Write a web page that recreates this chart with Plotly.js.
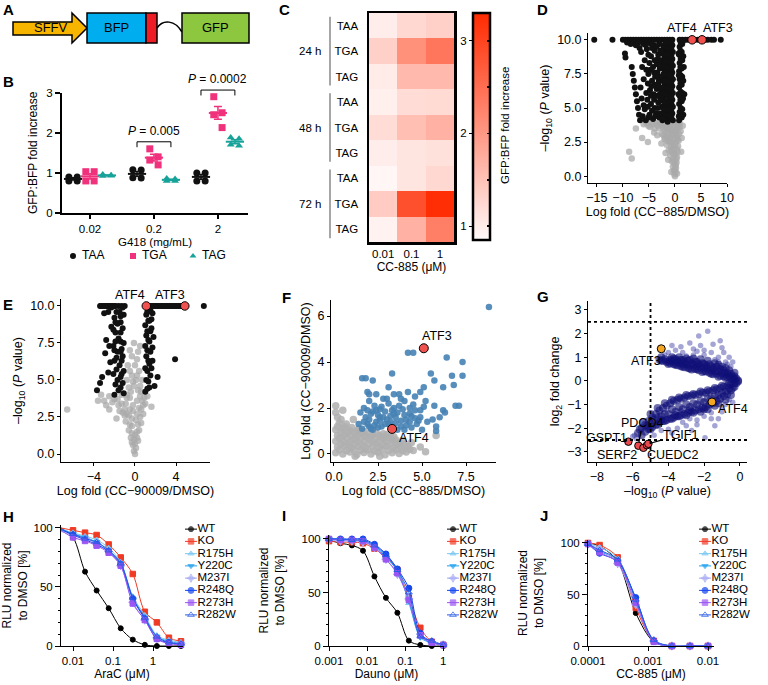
<!DOCTYPE html>
<html><head><meta charset="utf-8">
<script src="https://cdn.plot.ly/plotly-3.0.1.min.js"></script>
<style>html,body{margin:0;padding:0;background:#fff}#chart{width:768px;height:685px}</style>
</head><body><div id="chart"></div>
<script>
// ================= DATA =================
// Panel B: GFP:BFP fold increase vs G418 dose
const bDoses = ['0.02', '0.2', '2'];
const bCodons = ['TAA', 'TGA', 'TAG'];
const bTAA = [[0.9, 0.9, 0.8, 0.8], [1.08, 1.07, 0.88, 0.87], [1.0, 1.0, 0.8, 0.8]];
const bTGA = [[1.03, 1.03, 0.8, 0.8], [1.6, 1.4, 1.32, 1.2], [2.9, 2.5, 2.45, 2.13]];
const bTAG = [[0.96, 0.94, 0.92, 0.93], [0.86, 0.85, 0.8, 0.8], [1.88, 1.85, 1.7, 1.68]];
const bPDose = [1, 2];
const bPText = ['0.005', '0.0002'];

// Panel C: heatmap
const cConc = ['0.01', '0.1', '1'];
const cRows = ['TAA', 'TGA', 'TAG', 'TAA', 'TGA', 'TAG', 'TAA', 'TGA', 'TAG'];
const cTimes = ['24 h', '48 h', '72 h'];
const cZ = [
  [1.0, 1.25, 1.35],
  [1.35, 2.1, 2.4],
  [1.02, 1.6, 1.6],
  [0.98, 1.2, 1.22],
  [1.2, 1.55, 1.7],
  [1.0, 1.1, 1.15],
  [0.9, 1.1, 1.25],
  [1.4, 2.85, 3.25],
  [0.95, 1.7, 2.3]
];

// Panel D: volcano CC-885
const dSig = [[-15.5,10],[-12,10],[-10,10],[-9.5,10],[-9,10],[-8.5,10],[-8,10],[-7.5,10],[-7,10],[-6.5,10],[-6,10],[-5.5,10],[-5,10],[-4.5,10],[-4,10],[-3.5,10],[-3,10],[-2.5,10],[-2,10],[-1.5,10],[-1,10],[-0.5,10],[0.9,10],[1.4,10],[2,10],[2.5,10],[3,10],[3.8,10],[4.4,10],[5.8,10],[6.3,10],[7,10],[7.5,10],[8.8,10],
[-0.4,4.1],[-0.9,4.2],[-1.4,4.0],[-1.9,4.3],[-2.4,4.1],[-0.5,4.6],[-1.0,4.7],[-1.5,4.5],[-2.0,4.8],[-0.4,5.1],[-0.9,5.2],[-1.4,5.0],[-1.9,5.3],[-2.5,5.1],[-0.5,5.6],[-1.0,5.7],[-1.5,5.5],[-2.1,5.8],[-0.4,6.1],[-0.9,6.2],[-1.4,6.0],[-1.9,6.3],[-2.6,6.2],[-0.5,6.6],[-1.0,6.7],[-1.5,6.5],[-2.0,6.8],[-0.4,7.1],[-0.9,7.2],[-1.4,7.0],[-1.9,7.3],[-2.4,7.1],[-0.5,7.6],[-1.0,7.7],[-1.5,7.5],[-2.0,7.8],[-0.4,8.1],[-0.9,8.2],[-1.4,8.0],[-1.9,8.3],[-2.5,8.2],[-0.5,8.6],[-1.0,8.7],[-1.5,8.5],[-2.0,8.8],[-0.4,9.1],[-0.9,9.2],[-1.4,9.0],[-1.9,9.3],[-2.4,9.1],[-0.5,9.6],[-1.0,9.7],[-1.5,9.5],[-2.0,9.6],
[-0.7,4.35],[-1.2,4.4],[-1.7,4.45],[-2.2,4.5],[-0.7,4.85],[-1.2,4.9],[-1.7,4.95],[-2.3,5.0],[-0.7,5.35],[-1.2,5.4],[-1.7,5.45],[-2.2,5.5],[-0.7,5.85],[-1.2,5.9],[-1.7,5.95],[-2.3,6.0],[-0.7,6.35],[-1.2,6.4],[-1.7,6.45],[-2.2,6.5],[-0.7,6.85],[-1.2,6.9],[-1.7,6.95],[-2.3,7.0],[-0.7,7.35],[-1.2,7.4],[-1.7,7.45],[-2.2,7.5],[-0.7,7.85],[-1.2,7.9],[-1.7,7.95],[-2.3,8.0],[-0.7,8.35],[-1.2,8.4],[-1.7,8.45],[-2.2,8.5],[-0.7,8.85],[-1.2,8.9],[-1.7,8.95],[-2.3,9.0],[-0.7,9.35],[-1.2,9.4],[-1.7,9.45],[-2.2,9.5],[-0.7,9.8],[-1.2,9.85],[-1.7,9.8],
[-3.0,4.3],[-3.6,4.6],[-4.2,4.2],[-4.9,4.5],[-5.6,4.1],[-6.2,4.4],[-3.2,5.4],[-3.9,5.0],[-4.6,5.3],[-5.3,5.6],[-6.0,5.2],[-2.9,6.0],[-3.5,6.4],[-4.1,6.0],[-4.8,6.3],[-5.5,6.1],[-3.1,7.0],[-3.8,7.3],[-4.4,7.0],[-5.1,7.5],[-6.0,7.1],[-2.9,7.9],[-3.5,8.2],[-4.2,8.0],[-4.9,8.3],[-5.8,8.5],[-3.2,8.9],[-3.9,9.2],[-4.6,8.8],[-5.4,9.3],[-6.5,9.1],[-3.0,9.7],[-4.0,9.6],[-5.0,9.8],[-6.0,9.7],[-7.0,9.8],[-8.0,9.8],
[-2.8,4.6],[-3.3,5.0],[-3.8,4.4],[-4.4,4.8],[-5.1,4.3],[-5.8,4.9],[-2.8,5.7],[-3.4,5.9],[-4.0,5.6],[-4.6,5.9],[-5.2,5.1],[-2.8,6.5],[-3.2,6.8],[-3.9,6.7],[-4.5,6.6],[-5.2,6.8],[-2.8,7.3],[-3.4,7.6],[-4.0,7.6],[-4.7,7.8],[-5.5,7.8],[-2.8,8.5],[-3.3,8.6],[-3.9,8.5],[-4.4,9.4],[-5.1,8.9],[-2.8,9.2],[-3.5,9.5],[-4.5,9.7],[-5.6,9.6],[-6.3,8.0],[-6.6,6.5],[-6.4,5.7],[-6.8,9.4],[-7.5,9.6],[-8.5,9.7],[-9.2,9.8],
[-8.3,8.0],[-8.1,7.5],[-7.9,7.0],[-7.7,6.5],[-7.5,6.0],[-7.3,5.5],[-7.1,5.0],[-6.9,4.5],[-6.7,4.1],[-9.6,9.0],[-9.5,8.7],
[0.8,4.1],[1.3,4.3],[0.9,4.7],[1.4,4.9],[0.8,5.3],[1.3,5.5],[0.9,5.9],[1.4,6.1],[0.8,6.5],[1.3,6.7],[0.9,7.1],[1.4,7.3],[0.8,7.7],[1.3,7.9],[0.9,8.3],[1.4,8.5],[0.8,8.9],[1.3,9.1],[0.9,9.5],[1.4,9.7],[1.7,8.0],[1.8,6.0],
[1.05,4.4],[1.1,5.0],[1.05,5.6],[1.1,6.2],[1.05,6.8],[1.1,7.4],[1.05,8.0],[1.1,8.6],[1.05,9.2],[1.1,9.8],[0.75,4.4],[0.7,6.0],[0.75,7.4],[0.7,9.0],[1.6,4.5],[1.55,5.7],[1.6,7.0],[1.6,8.8],[1.5,9.9]];
const dNS = [[0,0],[0.1,0.3],[-0.2,0.4],[0.2,0.6],[-0.4,0.7],[-0.1,0.9],[0.3,1.0],[-0.6,1.1],[-0.3,1.3],[0.4,1.4],[-0.9,1.5],[-0.5,1.7],[0.1,1.6],[0.5,1.8],[-1.2,1.9],[-0.8,2.1],[-0.2,2.0],[0.6,2.2],[-1.6,2.3],[-1.1,2.5],[-0.5,2.4],[0.2,2.5],[0.7,2.6],[-2.0,2.7],[-1.5,2.9],[-0.9,2.8],[-0.3,3.0],[0.4,2.9],[0.8,3.1],[-2.5,3.1],[-1.9,3.3],[-1.3,3.2],[-0.6,3.4],[0.1,3.3],[0.6,3.5],[0.9,3.6],[-3.0,3.5],[-2.4,3.7],[-1.7,3.6],[-1.0,3.8],[-0.3,3.7],[0.3,3.9],[0.9,3.9],[-3.6,3.9],[-3.0,3.9],[-4.2,3.8],[-4.8,3.6],[-5.5,3.9],[-2.6,2.4],[-3.4,3.0],[-4.0,3.2],[-7.5,3.5],[-8.8,1.8],[-8.3,1.3],[-6.3,2.8],[-5.2,2.5],[1.3,2.8],[1.5,3.7],[1.2,1.8],[-0.7,0.3],[0.4,0.2],[-1.3,1.2],[-1.8,1.7],
[0.0,0.5],[-0.1,0.15],[0.15,0.8],[-0.25,1.1],[0.25,1.25],[-0.15,1.6],[-0.7,1.9],[0.35,2.0],[-0.4,2.2],[0.0,2.3],[-1.4,2.6],[-0.8,2.6],[-0.1,2.7],[0.5,2.7],[-2.2,3.0],[-1.1,3.0],[-0.5,3.1],[0.2,3.1],[-2.2,3.5],[-1.5,3.4],[-0.9,3.5],[-0.3,3.4],[0.4,3.6],[-2.7,3.8],[-2.0,3.9],[-1.3,3.7],[-0.7,3.9],[0.0,3.9],[0.6,3.8],[-3.3,3.7],[-3.9,3.5],[-4.5,3.9],[-5.1,3.7],[-6.0,3.8],[1.1,3.3],[-1.9,2.8]];
const dHi = [[3.3, 10], [5.2, 10]];
const dHiNames = ['ATF4', 'ATF3'];

// Panel E: volcano CC-90009
const eSig = [[-3.4,10],[-3.1,10],[-2.8,10],[-2.5,10],[-2.2,10],[-1.9,10],[-1.6,10],[-1.3,10],[-1.0,10],[1.4,10],[1.7,10],[2.0,10],[2.3,10],[2.6,10],[2.9,10],[3.2,10],[3.5,10],[3.8,10],[4.1,10],[4.4,10],[6.7,10],
[-3.3,10],[1.2,10],[1.55,10],[1.85,10],[2.15,10],[2.45,10],[2.75,10],[3.05,10],[3.35,10],[3.65,10],[3.95,10],[4.25,10],[4.6,10],[-2.0,10],[-2.35,10],[-2.65,10],[-2.95,10],
[-1.1,4.1],[-1.6,4.3],[-2.0,4.0],[-1.2,4.8],[-1.7,5.0],[-2.1,5.4],[-1.1,5.6],[-1.5,6.0],[-2.0,6.3],[-1.2,6.6],[-1.7,6.9],[-2.1,7.3],[-1.1,7.5],[-1.6,7.8],[-1.9,8.2],[-1.2,8.5],[-1.7,8.8],[-2.0,9.2],[-1.1,9.4],[-1.5,9.6],[-1.3,7.1],[-1.4,5.2],
[-1.4,4.5],[-1.9,4.7],[-1.3,5.4],[-1.8,5.7],[-1.3,6.3],[-1.8,6.5],[-1.4,6.9],[-2.0,7.0],[-1.4,7.6],[-1.9,7.6],[-1.4,8.2],[-2.1,8.4],[-1.4,8.9],[-1.9,8.9],[-1.4,9.3],[-1.8,9.6],[-2.3,9.9],[-1.2,9.9],
[-3.7,4.3],[-3.4,4.8],[-3.2,5.2],[-2.9,6.8],[-2.8,7.7],[-2.5,7.3],[-2.4,6.2],[-2.6,5.5],[-2.3,8.6],[-2.6,9.6],[-3.0,9.5],
[1.0,4.2],[1.4,4.5],[1.1,5.0],[1.5,5.3],[1.0,5.8],[1.4,6.1],[1.1,6.6],[1.5,6.9],[1.0,7.3],[1.4,7.6],[1.1,8.0],[1.5,8.3],[1.0,8.7],[1.4,9.0],[1.1,9.4],[1.5,9.7],[1.7,6.3],[1.8,7.9],[2.2,5.2],[3.9,6.4],[1.6,9.1],[1.9,4.6],
[1.2,4.4],[1.3,4.9],[1.2,5.6],[1.3,6.3],[1.2,7.0],[1.3,7.7],[1.2,8.3],[1.3,9.0],[1.2,9.6],[1.6,5.8],[1.7,7.2],[1.6,8.5],[1.7,9.5]];
const eNS = [[0,0],[0.1,0.4],[-0.2,0.6],[0.3,0.9],[-0.4,1.1],[0.0,1.3],[0.4,1.6],[-0.6,1.6],[-0.3,1.9],[0.6,2.1],[-0.9,2.2],[0.1,2.3],[-0.6,2.6],[0.8,2.7],[-1.2,2.8],[-0.2,2.9],[0.4,3.1],[-1.6,3.3],[-0.9,3.4],[1.0,3.4],[-2.0,3.7],[-0.5,3.8],[0.2,3.6],[1.2,3.9],[-2.5,3.9],[-1.3,4.0],[-3.0,3.6],[-3.3,4.0],[-0.6,4.5],[0.5,4.6],[-0.3,5.3],[0.4,5.6],[-0.7,6.0],[0.2,6.4],[-0.5,7.0],[0.5,7.3],[-0.2,4.9],[0.6,4.2],[-6.6,3.0],[1.6,3.2],[-1.8,2.4],[-2.5,3.0],[-0.1,0.2],[0.2,1.1],[-0.3,0.8],[-1.0,3.0],[0.7,3.6],
[0.0,0.7],[-0.1,1.0],[0.2,1.5],[-0.3,1.4],[-0.5,2.0],[0.3,2.0],[-0.3,2.4],[0.5,2.5],[-0.8,2.7],[0.2,2.7],[-1.0,2.6],[-0.5,3.0],[0.6,3.0],[-1.3,3.4],[-0.2,3.3],[0.8,3.3],[-1.7,3.7],[-0.8,3.8],[0.5,3.9],[-2.2,3.5],[-0.4,4.2],[0.3,4.3],[-0.1,4.6],[0.1,5.0],[-0.5,5.6],[0.0,6.0],[-0.3,6.6],[0.3,6.9],[-0.1,7.5],[0.2,5.3],[-0.8,5.0],[0.7,5.0],[-0.8,4.0],[0.9,3.8],[-1.5,2.9],[-2.8,3.3],[-3.6,3.6]];
const eHi = [[1.1, 10], [4.85, 10]];
const eHiNames = ['ATF4', 'ATF3'];

// Panel F: CC-885 vs CC-90009 log fold
const fNS = [[0.1,0.05],[0.5,0.0],[0.9,0.08],[1.3,-0.02],[1.7,0.06],[2.1,0.0],[2.5,0.07],[2.9,-0.03],[3.3,0.05],[3.7,0.02],[4.1,0.08],[4.5,0.15],
[0.2,0.3],[0.6,0.33],[1.0,0.28],[1.4,0.32],[1.8,0.27],[2.2,0.31],[2.6,0.29],[3.0,0.34],[3.4,0.28],[3.8,0.3],[4.2,0.35],
[0.1,0.55],[0.5,0.58],[0.9,0.52],[1.3,0.57],[1.7,0.54],[2.1,0.59],[2.5,0.53],[2.9,0.56],[3.3,0.6],[3.7,0.5],
[0.2,0.8],[0.6,0.83],[1.0,0.78],[1.4,0.82],[1.8,0.79],[2.2,0.84],[2.6,0.8],[3.0,0.85],[3.4,0.75],
[0.1,1.05],[0.5,1.08],[0.9,1.02],[1.3,1.0],[1.7,0.98],
[0.3,1.35],[0.7,1.3],[0.2,1.6],[0.5,1.9],[0.1,2.1],[1.1,1.5],[4.9,0.3],[5.8,0.8],[5.2,0.1],[1.2,-0.1],[2.6,-0.1],[0.3,0.18],[2.0,0.45],[3.6,0.42],[1.5,0.68],[2.8,0.68],
[0.7,0.15],[1.1,0.2],[1.5,0.16],[1.9,0.18],[2.3,0.14],[2.7,0.2],[3.1,0.16],[3.5,0.18],[3.9,0.15],[4.3,0.2],
[0.4,0.43],[0.8,0.42],[1.2,0.45],[1.6,0.4],[2.4,0.44],[2.8,0.41],[3.2,0.45],[4.0,0.4],[4.4,0.5],
[0.3,0.68],[0.7,0.7],[1.1,0.66],[1.9,0.7],[2.3,0.67],[2.7,0.72],[3.1,0.69],[3.5,0.62],[3.9,0.6],
[0.4,0.93],[0.8,0.95],[1.2,0.9],[1.6,0.92],[2.0,0.88],[2.4,0.9],[2.8,0.88],[3.2,0.8],
[0.2,1.2],[0.6,1.18],[1.0,1.15],[1.4,1.1],[0.4,1.5],[0.1,1.8]];
const fSig = [[1.6,1.1],[1.9,1.3],[2.2,1.05],[2.4,1.4],[2.7,1.2],[3.0,1.5],[3.3,1.1],[3.5,1.35],[3.8,1.2],[4.1,1.5],[4.4,1.15],[4.7,1.3],[5.0,1.05],[5.3,1.4],
[1.8,1.6],[2.1,1.75],[2.5,1.7],[2.9,1.85],[3.2,1.65],[3.6,1.8],[3.9,1.95],[4.3,1.75],[4.6,1.9],[4.9,1.6],
[2.3,2.1],[2.7,2.05],[3.1,2.2],[3.4,2.0],[4.0,2.3],[4.5,2.15],[5.1,2.05],[1.7,2.0],
[1.5,1.8],[1.6,3.3],[1.9,2.7],[2.0,2.6],[3.1,2.9],[3.4,2.6],[3.8,2.4],[4.2,2.7],[4.9,2.7],[5.1,2.9],[5.2,2.3],[5.7,2.1],[6.2,1.9],[6.3,1.8],[5.6,1.5],[5.8,1.2],[5.8,1.0],[4.2,4.4],[4.5,4.4],[6.4,4.2],[7.3,4.0],[7.3,3.4],[6.7,3.4],[6.8,3.0],[6.2,2.9],[5.5,3.5],[5.7,3.2],[4.6,2.5],[3.7,2.6],[8.8,6.4],[6.9,2.1],[7.1,2.1],[2.8,2.4],[1.4,1.3],[2.6,1.45],[4.6,1.55],[3.3,1.9],[6.0,1.6],[2.0,1.2],[3.1,1.3],[4.0,1.05],[2.4,1.9],
[1.7,1.4],[2.0,1.5],[2.3,1.25],[2.6,1.6],[2.9,1.3],[3.2,1.4],[3.5,1.6],[3.8,1.45],[4.1,1.25],[4.4,1.65],[4.8,1.45],[2.2,1.85],[2.8,1.6],[3.4,1.75],[4.0,1.7],[1.9,1.9],[2.6,1.95],[3.7,2.1],[4.3,2.0],[2.1,1.1],[2.5,1.15],[3.6,1.05],[4.3,1.4],[4.9,1.9],[2.0,2.3],[3.0,2.4],[2.4,2.6],[3.3,3.5],[2.2,3.2],[1.8,3.3]];
const fHi = [[5.1, 4.6], [3.3, 1.09]];
const fHiNames = ['ATF3', 'ATF4'];

// Panel G: log2 fold change vs -log10 P  (dense core and sparse outliers)
const gCore = [[-0.1,0.02],[-0.3,0.08],[-0.3,0.2],[-0.5,0.1],[-0.5,0.3],[-0.7,0.15],[-0.7,0.35],[-0.9,0.2],[-0.9,0.45],[-1.1,0.22],[-1.1,0.5],[-1.3,0.3],[-1.3,0.6],[-1.5,0.28],[-1.5,0.55],[-1.7,0.35],[-1.7,0.7],[-1.9,0.4],[-1.9,0.65],[-2.1,0.38],[-2.1,0.75],[-2.3,0.45],[-2.3,0.7],[-2.5,0.5],[-2.5,0.82],[-2.7,0.48],[-2.7,0.75],[-2.9,0.55],[-2.9,0.85],[-3.1,0.58],[-3.1,0.8],[-3.3,0.62],[-3.3,0.9],[-3.5,0.66],[-3.5,0.85],[-3.7,0.7],[-3.7,0.95],[-3.9,0.75],[-3.9,0.9],[-4.1,0.8],[-4.3,0.85],[-4.5,0.9],[-4.4,1.0],
[-0.4,0.18],[-0.8,0.3],[-1.2,0.4],[-1.6,0.45],[-2.0,0.55],[-2.4,0.62],[-2.8,0.65],[-3.2,0.72],[-3.6,0.78],[-4.0,0.82],
[-0.2,0.1],[-0.4,0.05],[-0.6,0.22],[-0.8,0.12],[-1.0,0.33],[-1.2,0.18],[-1.4,0.42],[-1.6,0.3],[-1.8,0.55],[-2.0,0.42],[-2.2,0.6],[-2.4,0.5],[-2.6,0.68],[-2.8,0.52],[-3.0,0.72],[-3.2,0.6],[-3.4,0.78],[-3.6,0.68],[-3.8,0.85],[-4.0,0.72],[-4.2,0.92],[-4.4,0.85],[-0.6,0.45],[-1.0,0.6],[-1.4,0.75],[-1.8,0.85],[-2.2,0.92],[-2.6,0.95],[-3.0,0.95],[-3.4,1.0],[-3.8,1.0],[-0.3,0.35],[-0.8,0.55],[-1.2,0.68],[-1.6,0.62],[-2.0,0.72],[-2.4,0.8],[-2.8,0.88],[-3.2,0.88],[-3.6,0.92],
[-0.1,-0.03],[-0.3,-0.1],[-0.3,-0.25],[-0.5,-0.15],[-0.5,-0.4],[-0.7,-0.2],[-0.7,-0.55],[-0.9,-0.25],[-0.9,-0.65],[-1.1,-0.3],[-1.1,-0.75],[-1.3,-0.35],[-1.3,-0.85],[-1.5,-0.4],[-1.5,-0.95],[-1.7,-0.45],[-1.7,-1.0],[-1.9,-0.5],[-1.9,-1.1],[-2.1,-0.5],[-2.1,-1.15],[-2.3,-0.55],[-2.3,-1.2],[-2.5,-0.6],[-2.5,-1.25],[-2.7,-0.62],[-2.7,-1.3],[-2.9,-0.65],[-2.9,-1.35],[-3.1,-0.7],[-3.1,-1.4],[-3.3,-0.75],[-3.3,-1.45],[-3.5,-0.8],[-3.5,-1.5],[-3.7,-0.85],[-3.7,-1.55],[-3.9,-0.95],[-3.9,-1.6],[-4.1,-1.05],[-4.1,-1.65],[-4.3,-1.15],[-4.3,-1.7],[-4.5,-1.25],[-4.5,-1.75],[-4.7,-1.4],[-4.7,-1.85],[-4.9,-1.55],[-4.9,-1.95],[-5.1,-1.7],[-5.1,-2.05],[-5.3,-1.85],[-5.3,-2.15],[-5.5,-2.0],[-5.5,-2.3],[-5.7,-2.2],
[-0.6,-0.3],[-1.0,-0.5],[-1.4,-0.65],[-1.8,-0.75],[-2.2,-0.85],[-2.6,-0.95],[-3.0,-1.0],[-3.4,-1.1],[-3.8,-1.2],[-4.2,-1.4],[-4.6,-1.55],[-5.0,-1.8],
[-0.2,-0.1],[-0.4,-0.3],[-0.6,-0.1],[-0.8,-0.45],[-1.0,-0.2],[-1.2,-0.6],[-1.4,-0.3],[-1.6,-0.75],[-1.8,-0.4],[-2.0,-0.9],[-2.2,-0.45],[-2.4,-1.0],[-2.6,-0.55],[-2.8,-1.1],[-3.0,-0.6],[-3.2,-1.2],[-3.4,-0.7],[-3.6,-1.3],[-3.8,-0.8],[-4.0,-1.4],[-4.2,-0.95],[-4.4,-1.5],[-4.6,-1.15],[-4.8,-1.65],[-5.0,-1.4],[-5.2,-1.9],[-5.4,-1.75],[-5.6,-2.05],[-0.8,-0.8],[-1.4,-1.05],[-1.8,-1.2],[-2.2,-1.3],[-2.6,-1.35],[-3.0,-1.45],[-3.4,-1.5],[-3.8,-1.6],[-4.2,-1.7],[-4.6,-1.85],[-5.0,-2.05],[-0.5,-0.6],[-1.2,-0.95],[-2.0,-1.2],[-2.8,-1.25],[-3.6,-1.45],[-4.4,-1.65]];
const gSparse = [[-0.8,0.8],[-1.2,1.0],[-1.6,1.2],[-2.0,1.1],[-2.4,1.25],[-1.0,1.4],[-2.8,1.6],[-1.8,2.1],[-3.2,1.2],[-3.6,1.3],[-0.5,0.6],[-2.2,1.5],[-1.4,0.9],[-3.0,1.05],[-0.9,1.2],[-4.0,1.2],[-2.6,1.1],[-4.2,1.1],[-1.2,0.8],[-2.0,1.3],[-2.6,1.35],[-3.3,1.45],[-1.5,1.55],[-0.7,0.7],[-0.6,1.0],[-2.3,1.9],[-1.1,1.7],[-3.8,1.5],[-0.4,0.8],
[-1.0,-1.1],[-1.6,-1.35],[-2.0,-1.5],[-2.4,-1.65],[-3.2,-1.75],[-2.8,-1.6],[-1.95,-2.4],[-3.5,-2.0],[-1.2,-1.6],[-4.0,-2.05],[-0.6,-0.8],[-6.0,-2.35],[-5.8,-2.45],[-4.4,-2.1],[-1.0,-1.3],[-2.4,-1.85],[-3.0,-1.9],[-3.8,-2.2],[-4.8,-2.3],[-1.6,-1.6],[-5.9,-2.3],[-0.8,-1.0],[-0.4,-0.9],[-2.7,-2.1],[-3.3,-1.25],[-1.4,-1.9]];
const gOrange = [[-4.4, 1.36], [-1.56, -0.89]];
const gOrangeNames = ['ATF3', 'ATF4'];
const gRed = [[-6.24, -2.57], [-5.68, -2.74], [-5.4, -2.83], [-5.2, -2.72], [-5.12, -2.66]];
const gRedNames = ['GSPT1', 'PDCD4', 'SERF2', 'CUEDC2', 'TGIF1'];

// Panels H-J: dose response
const doseLines = ['WT', 'KO', 'R175H', 'Y220C', 'M237I', 'R248Q', 'R273H', 'R282W'];
const hConc = [0.005, 0.01, 0.02, 0.039, 0.078, 0.156, 0.3125, 0.625, 1.25, 2.5, 5];
const hResp = [
  [100, 92, 63, 47, 32, 15, 5.4, 1, 0, 0, 0],
  [100, 98, 96, 94, 86, 75, 61, 29, 20, 7, 4],
  [99, 96, 93, 90, 83, 71, 42, 26, 9, 5, 3],
  [98, 95, 92, 88, 81, 70, 40, 24, 8, 4, 2],
  [97, 94, 91, 87, 80, 68, 37, 22, 7, 3, 2],
  [99, 94, 90, 86, 80, 69, 40, 23, 6, 3, 1],
  [98, 92, 89, 85, 79, 68, 36, 22, 6, 2, 1],
  [99, 95, 91, 88, 81, 70, 41, 24, 8, 3, 2]
];
const iConc = [0.001, 0.002, 0.004, 0.0078, 0.0156, 0.03125, 0.0625, 0.125, 0.25, 0.5, 1];
const iResp = [
  [99, 96, 94, 89, 65, 45, 31, 5, 1, 0, 0],
  [98, 97, 97, 96, 91, 83, 71, 45, 17, 4, 1],
  [100, 99, 99, 99, 94, 84, 72, 40, 10, 3, 1],
  [100, 100, 99, 98, 93, 83, 70, 42, 8, 3, 1],
  [99, 98, 98, 97, 92, 81, 67, 44, 11, 3, 1],
  [100, 100, 100, 100, 95, 86, 72, 54, 12, 4, 1],
  [100, 99, 99, 98, 92, 81, 68, 43, 10, 3, 1],
  [100, 100, 99, 99, 94, 85, 71, 50, 9, 5, 1]
];
const jConc = [0.0001, 0.000156, 0.0003125, 0.000625, 0.00125, 0.0025, 0.005, 0.01];
const jResp = [
  [100, 97, 82, 32, 4, 0, 0, 0],
  [100, 98, 86, 37, 5, 0, 0, 0],
  [99, 96, 85, 45, 5, 0, 0, 0],
  [99, 92, 83, 46, 4, 0, 0, 0],
  [99, 94, 80, 40, 5, 0, 0, 0],
  [99, 90, 82, 47, 5, 0, 0, 0],
  [99, 91, 81, 42, 4, 0, 0, 0],
  [99, 93, 84, 45, 6, 0, 0, 0]
];

// ================= STYLE / LAYOUT =================
const W = 768, H = 685;
const fx = p => p / W, fy = p => 1 - p / H;
const FONT = 'Liberation Sans, Arial, Helvetica, sans-serif';
const traces = [], annotations = [], shapes = [];
const layout = {
  width: W, height: H, margin: {l: 0, r: 0, t: 0, b: 0},
  paper_bgcolor: '#fff', plot_bgcolor: 'rgba(0,0,0,0)',
  font: {family: FONT, size: 11.5, color: '#000'},
  showlegend: false, hovermode: false
};
function ax(dom, range, extra) {
  return Object.assign({domain: dom, range: range, autorange: false, showgrid: false, zeroline: false,
    showline: true, linecolor: '#000', linewidth: 1, ticks: 'outside', ticklen: 4, tickcolor: '#000',
    fixedrange: true, tickfont: {size: 11.5}}, extra);
}
const titleFont = {size: 12};

// ---------- Panel letters ----------
[['A', 8, 10], ['B', 8, 81], ['C', 284, 9], ['D', 542, 10], ['E', 8, 304], ['F', 286, 297], ['G', 543, 296], ['H', 8, 516], ['I', 284, 515], ['J', 544, 515]]
  .forEach(([t, x, y]) => annotations.push({text: '<b>' + t + '</b>', xref: 'paper', yref: 'paper', x: fx(x), y: fy(y),
    xanchor: 'center', yanchor: 'middle', showarrow: false, font: {size: 15, family: FONT}}));

// ---------- Panel A (construct diagram) ----------
function pathPx(pts, close) {
  return pts.map((p, i) => (i ? 'L' : 'M') + fx(p[0]) + ',' + fy(p[1])).join(' ') + (close ? ' Z' : '');
}
shapes.push({type: 'path', xref: 'paper', yref: 'paper', path: pathPx([[13,22],[72,22],[72,13],[87,28],[72,43],[72,35],[13,35]], true),
  fillcolor: '#f7b500', line: {color: '#000', width: 1.5}});
shapes.push({type: 'rect', xref: 'paper', yref: 'paper', x0: fx(87), x1: fx(146), y0: fy(43), y1: fy(13), fillcolor: '#00aeef', line: {color: '#000', width: 1.5}});
shapes.push({type: 'rect', xref: 'paper', yref: 'paper', x0: fx(146), x1: fx(157), y0: fy(43), y1: fy(13), fillcolor: '#ee1c24', line: {color: '#000', width: 1.5}});
shapes.push({type: 'path', xref: 'paper', yref: 'paper',
  path: 'M' + fx(157) + ',' + fy(28) + ' C' + fx(163) + ',' + fy(19) + ' ' + fx(175) + ',' + fy(20) + ' ' + fx(182) + ',' + fy(32),
  line: {color: '#000', width: 1.5}});
shapes.push({type: 'rect', xref: 'paper', yref: 'paper', x0: fx(182), x1: fx(249), y0: fy(43), y1: fy(13), fillcolor: '#8dc63f', line: {color: '#000', width: 1.5}});
[['SFFV', 51, 28], ['BFP', 116, 28], ['GFP', 215, 28]].forEach(([t, x, y]) =>
  annotations.push({text: t, xref: 'paper', yref: 'paper', x: fx(x), y: fy(y), xanchor: 'center', yanchor: 'middle',
    showarrow: false, font: {size: 13}}));

// ---------- Panel B ----------
layout.xaxis = ax([fx(62), fx(248)], [-0.4375, 2.47], {anchor: 'y', tickvals: [0, 1, 2], ticktext: bDoses,
  linewidth: 2, tickwidth: 2, ticklen: 4});
layout.yaxis = ax([fy(213), fy(92.7)], [0, 3], {anchor: 'x', tickvals: [0, 1, 2, 3],
  linewidth: 2, tickwidth: 2, ticklen: 5, title: {text: 'GFP:BFP fold increase', font: titleFont, standoff: 6}});
annotations.push({text: 'G418 (mg/mL)', xref: 'paper', yref: 'paper', x: fx(155), y: fy(242), xanchor: 'center', yanchor: 'middle',
  showarrow: false, font: {size: 11.5}});
const bData = [bTAA, bTGA, bTAG];
const bColors = ['#111111', '#f0317c', '#17a39a'];
const bSymbols = ['circle', 'square', 'triangle-up'];
const bOff = [-0.265, 0, 0.265];
const bJit = [-0.065, 0.065, -0.065, 0.065];
bData.forEach((grp, ci) => {
  const xs = [], ys = [], mx = [], my = [], se = [];
  grp.forEach((vals, gi) => {
    vals.forEach((v, ri) => { xs.push(gi + bOff[ci] + bJit[ri]); ys.push(v); });
    const m = vals.reduce((a, b) => a + b, 0) / vals.length;
    const sd = Math.sqrt(vals.reduce((a, b) => a + (b - m) * (b - m), 0) / (vals.length - 1));
    mx.push(gi + bOff[ci]); my.push(m); se.push(sd / Math.sqrt(vals.length));
  });
  traces.push({type: 'scatter', mode: 'markers', x: xs, y: ys, xaxis: 'x', yaxis: 'y', name: bCodons[ci],
    marker: {color: bColors[ci], symbol: bSymbols[ci], size: 7}, cliponaxis: false});
  traces.push({type: 'scatter', mode: 'markers', x: mx, y: my, xaxis: 'x', yaxis: 'y',
    marker: {symbol: 'line-ew-open', size: 13, color: bColors[ci], line: {color: bColors[ci], width: 2}},
    error_y: {type: 'data', array: se, color: bColors[ci], thickness: 1.5, width: 4}, cliponaxis: false});
});
const bBracketY = [0.592, 1.022];
bPDose.forEach((gi, k) => {
  const x0 = gi + bOff[0], x1 = gi + bOff[2], yb = bBracketY[k], yt = yb - 0.045;
  [[x0, yb, x1, yb], [x0, yb, x0, yt], [x1, yb, x1, yt]].forEach(s =>
    shapes.push({type: 'line', xref: 'x', yref: 'y domain', x0: s[0], y0: s[1], x1: s[2], y1: s[3], line: {color: '#000', width: 1}}));
  annotations.push({text: '<i>P</i> = ' + bPText[k], xref: 'x', yref: 'y domain', x: gi, y: yb + 0.015,
    yanchor: 'bottom', showarrow: false, font: {size: 12}});
});
// B legend (horizontal, on hidden axes, px units)
layout.xaxis14 = {domain: [fx(60), fx(250)], range: [60, 250], visible: false, anchor: 'y14', fixedrange: true};
layout.yaxis14 = {domain: [fy(264), fy(248)], range: [-1, 1], visible: false, anchor: 'x14', fixedrange: true};
bCodons.forEach((c, k) => {
  traces.push({type: 'scatter', mode: 'markers', x: [73 + 60 * k], y: [0], xaxis: 'x14', yaxis: 'y14',
    marker: {color: bColors[k], symbol: bSymbols[k], size: 6}, cliponaxis: false});
});
traces.push({type: 'scatter', mode: 'text', x: bCodons.map((_, k) => 82 + 60 * k), y: bCodons.map(() => 0), text: bCodons,
  textposition: 'middle right', textfont: {size: 12, color: '#000'}, xaxis: 'x14', yaxis: 'y14', cliponaxis: false});

// ---------- Panel C ----------
layout.xaxis2 = ax([fx(369), fx(454)], [-0.5, 2.5], {anchor: 'y2', tickvals: [0, 1, 2], ticktext: cConc, ticks: '',
  mirror: true, linewidth: 2.5, title: {text: 'CC-885 (μM)', font: titleFont, standoff: 4}});
layout.yaxis2 = ax([fy(242), fy(13)], [8.5, -0.5], {anchor: 'x2', tickvals: cRows.map((_, i) => i), ticktext: cRows,
  ticks: '', mirror: true, linewidth: 2.5, ticklabelstandoff: 6});
traces.push({type: 'heatmap', z: cZ, x: [0, 1, 2], y: cRows.map((_, i) => i), xaxis: 'x2', yaxis: 'y2',
  zmin: 0.85, zmax: 3.3, colorscale: [[0, '#fffafa'], [1, '#ff2a00']], showscale: true,
  colorbar: {x: fx(473), xanchor: 'left', y: fy(13), yanchor: 'top', len: 227 / H, lenmode: 'fraction', thickness: 17,
    xpad: 0, ypad: 0, outlinewidth: 2.5, outlinecolor: '#000', ticks: 'inside', tickvals: [1, 1.5, 2, 2.5, 3], ticklen: 4,
    tickwidth: 1.5, tickcolor: '#000', showticklabels: false}});
annotations.push({text: 'GFP:BFP fold increase', xref: 'paper', yref: 'paper', x: fx(505), y: fy(126), textangle: -90,
  xanchor: 'center', yanchor: 'middle', showarrow: false, font: {size: 11.5}});
layout.xaxis3 = {domain: [fx(473), fx(490)], range: [0, 1], visible: false, anchor: 'y3', fixedrange: true};
layout.yaxis3 = ax([fy(240), fy(13)], [0.85, 3.3], {anchor: 'x3', side: 'left', tickvals: [1, 2, 3], ticks: 'outside',
  ticklen: 3, showline: false});
traces.push({type: 'scatter', x: [], y: [], xaxis: 'x3', yaxis: 'y3'});
cTimes.forEach((t, k) => {
  annotations.push({text: t, xref: 'paper', yref: 'y2', x: fx(310), y: 3 * k + 1, showarrow: false, font: {size: 11.5}});
  shapes.push({type: 'line', xref: 'paper', yref: 'y2', x0: fx(330), x1: fx(330), y0: 3 * k - 0.35, y1: 3 * k + 2.35,
    line: {color: '#888', width: 1.5}});
});

// ---------- Volcano helpers ----------
function addPts(arr, xa, ya, marker) {
  traces.push({type: 'scatter', mode: 'markers', x: arr.map(p => p[0]), y: arr.map(p => p[1]), xaxis: xa, yaxis: ya,
    marker: marker, cliponaxis: false});
}
function addLabels(arr, names, xa, ya, shifts) {
  arr.forEach((p, i) => annotations.push({text: names[i], xref: xa, yref: ya, x: p[0], y: p[1], showarrow: false,
    xshift: shifts[i][0], yshift: shifts[i][1], font: {size: 12.5}}));
}
const grayM = {color: 'rgba(170,170,170,0.75)', size: 6.5};
const blackM = {color: '#111', size: 6};
const redM = {color: '#f0524f', size: 8.5, line: {color: '#000', width: 1}};
const volTick = {size: 12.5};

// ---------- Panel D ----------
layout.xaxis4 = ax([fx(588), fx(727)], [-16.7, 10], {anchor: 'y4', tickvals: [-15, -10, -5, 0, 5, 10], tickfont: volTick, ticklen: 3,
  title: {text: 'Log fold (CC−885/DMSO)', font: {size: 12.5}, standoff: 0}});
layout.yaxis4 = ax([fy(183), fy(33)], [-0.5, 10.5], {anchor: 'x4', tickvals: [0, 2.5, 5, 7.5, 10], tickformat: '.1f', tickfont: volTick, ticklen: 3,
  title: {text: '–log<sub>10</sub> (<i>P</i> value)', font: {size: 12.5}, standoff: 4}});
addPts(dNS, 'x4', 'y4', grayM);
addPts(dSig, 'x4', 'y4', blackM);
addPts(dHi, 'x4', 'y4', redM);
addLabels(dHi, dHiNames, 'x4', 'y4', [[-10, 12], [16, 12]]);

// ---------- Panel E ----------
layout.xaxis5 = ax([fx(61), fx(210)], [-7.2, 7.3], {anchor: 'y5', tickvals: [-4, 0, 4], tickfont: volTick, ticklen: 3,
  title: {text: 'Log fold (CC−90009/DMSO)', font: {size: 12.5}, standoff: 0}});
layout.yaxis5 = ax([fy(462), fy(299)], [-0.54, 10.47], {anchor: 'x5', tickvals: [0, 2.5, 5, 7.5, 10], tickformat: '.1f', tickfont: volTick, ticklen: 3,
  title: {text: '–log<sub>10</sub> (<i>P</i> value)', font: {size: 12.5}, standoff: 4}});
addPts(eNS, 'x5', 'y5', grayM);
addPts(eSig, 'x5', 'y5', blackM);
addPts(eHi, 'x5', 'y5', redM);
addLabels(eHi, eHiNames, 'x5', 'y5', [[-16, 11], [-15, 11]]);

// ---------- Panel F ----------
layout.xaxis6 = ax([fx(331), fx(496)], [-0.17, 9.2], {anchor: 'y6', tickvals: [0, 2.5, 5, 7.5], tickformat: '.1f', tickfont: volTick, ticklen: 3,
  title: {text: 'Log fold (CC−885/DMSO)', font: {size: 12.5}, standoff: 0}});
layout.yaxis6 = ax([fy(462), fy(300)], [-0.35, 6.7], {anchor: 'x6', tickvals: [0, 2, 4, 6], tickfont: volTick, ticklen: 3,
  title: {text: 'Log fold (CC−90009/DMSO)', font: {size: 12.5}, standoff: 4}});
addPts(fNS, 'x6', 'y6', {color: 'rgba(175,175,175,0.85)', size: 7.5});
addPts(fSig, 'x6', 'y6', {color: 'rgba(70,130,180,0.9)', size: 6.5});
addPts(fHi, 'x6', 'y6', {color: '#f0524f', size: 9, line: {color: '#000', width: 1}});
addLabels(fHi, fHiNames, 'x6', 'y6', [[13, 12], [22, -9]]);

// ---------- Panel G ----------
layout.xaxis7 = ax([fx(588), fx(747)], [-8.5, 0.4], {anchor: 'y7', tickvals: [-8, -6, -4, -2, 0], tickfont: volTick, ticklen: 3,
  title: {text: '–log<sub>10</sub> (<i>P</i> value)', font: {size: 12.5}, standoff: 0}});
layout.yaxis7 = ax([fy(462), fy(301)], [-3.43, 3.38], {anchor: 'x7', tickvals: [-3, -2, -1, 0, 1, 2, 3], tickfont: volTick, ticklen: 3,
  title: {text: 'log<sub>2</sub> fold change', font: {size: 12.5}, standoff: 4}});
[2.5, -2.5].forEach(v => shapes.push({type: 'line', xref: 'x7 domain', yref: 'y7', x0: 0, x1: 1, y0: v, y1: v,
  line: {color: '#000', width: 1.8, dash: 'dot'}}));
shapes.push({type: 'line', xref: 'x7', yref: 'y7 domain', x0: -5, x1: -5, y0: 0, y1: 1, line: {color: '#000', width: 1.8, dash: 'dot'}});
addPts(gSparse, 'x7', 'y7', {color: 'rgba(30,30,150,0.4)', size: 5.5});
addPts(gCore, 'x7', 'y7', {color: 'rgba(15,15,120,0.6)', size: 8});
addPts(gOrange, 'x7', 'y7', {color: '#f5a623', size: 8, line: {color: '#000', width: 1}});
addPts(gRed, 'x7', 'y7', {color: '#ea4a4f', size: 7.5, line: {color: '#000', width: 1}});
addLabels(gOrange, gOrangeNames, 'x7', 'y7', [[-15, -12], [21, -7]]);
const gLabelShift = {GSPT1: [-22, 4], SERF2: [-26, -7], CUEDC2: [26, -10]};
gRed.forEach((p, i) => {
  const n = gRedNames[i];
  if (gLabelShift[n]) {
    annotations.push({text: n, xref: 'x7', yref: 'y7', x: p[0], y: p[1], showarrow: false, xshift: gLabelShift[n][0],
      yshift: gLabelShift[n][1], font: {size: 12.5}});
  } else if (n === 'PDCD4') {
    annotations.push({text: n, xref: 'x7', yref: 'y7', x: p[0], y: p[1], showarrow: true, arrowhead: 0, arrowwidth: 1.2,
      arrowcolor: '#000', ax: 4, ay: -23, font: {size: 12.5}, standoff: 3});
  } else {
    annotations.push({text: n, xref: 'x7', yref: 'y7', x: p[0], y: p[1], showarrow: true, arrowhead: 0, arrowwidth: 1.2,
      arrowcolor: '#000', ax: 32, ay: -9, font: {size: 12.5}, standoff: 3});
  }
});

// ---------- Panels H, I, J ----------
const lineColors = ['#000000', '#f03a24', '#7cc8f2', '#1fa0ee', '#a4a8f4', '#1446f0', '#9b55f2', '#2a5ce6'];
const lineSymbols = ['circle', 'square', 'triangle-up', 'triangle-down', 'star-diamond', 'circle', 'square', 'triangle-up-open'];
const lineSizes = [5, 5.5, 5.5, 5.5, 6, 6, 5.5, 6];
function dosePanel(conc, resp, xa, ya, xdom, ydom, xrange, yrange, tickv, tickt, xtitle, legX, ltag) {
  layout['xaxis' + xa] = ax(xdom, xrange, {anchor: 'y' + ya, type: 'log', tickvals: tickv, ticktext: tickt, ticklen: 4,
    title: {text: xtitle, font: titleFont, standoff: 2}});
  layout['yaxis' + ya] = ax(ydom, yrange, {anchor: 'x' + xa, tickvals: [0, 50, 100], ticklen: 5,
    minor: {tickvals: [10, 20, 30, 40, 60, 70, 80, 90], ticklen: 2.5, tickcolor: '#000'},
    title: {text: 'RLU normalized<br>to DMSO [%]', font: titleFont, standoff: 14}});
  resp.forEach((vals, k) => {
    traces.push({type: 'scatter', mode: 'lines+markers', x: conc, y: vals, xaxis: 'x' + xa, yaxis: 'y' + ya,
      line: {color: lineColors[k], width: 1, shape: 'spline', smoothing: 0.9},
      marker: {color: lineColors[k], symbol: lineSymbols[k], size: lineSizes[k], line: {color: lineColors[k], width: 1}}, cliponaxis: false});
  });
  // compact legend drawn on its own hidden axes
  layout['xaxis' + ltag] = {domain: [fx(legX), fx(legX + 62)], range: [0, 62], visible: false, anchor: 'y' + ltag, fixedrange: true};
  layout['yaxis' + ltag] = {domain: [fy(621), fy(523)], range: [7.5, -0.5], visible: false, anchor: 'x' + ltag, fixedrange: true};
  doseLines.forEach((n, k) => {
    traces.push({type: 'scatter', mode: 'lines+markers', x: [0, 6, 12], y: [k, k, k], xaxis: 'x' + ltag, yaxis: 'y' + ltag,
      line: {color: lineColors[k], width: 1},
      marker: {color: lineColors[k], symbol: lineSymbols[k], size: [0, lineSizes[k], 0], line: {color: lineColors[k], width: 1}}});
  });
  traces.push({type: 'scatter', mode: 'text', x: doseLines.map(() => 12.5), y: doseLines.map((_, k) => k), text: doseLines,
    textposition: 'middle right', textfont: {size: 11.5, color: '#000'}, xaxis: 'x' + ltag, yaxis: 'y' + ltag, cliponaxis: false});
}
dosePanel(hConc, hResp, 8, 8, [fx(61), fx(183)], [fy(646), fy(525)], [-2.3, 0.75], [0, 102.5],
  [0.01, 0.1, 1], ['0.01', '0.1', '1'], 'AraC (μM)', 185, 11);
dosePanel(iConc, iResp, 9, 9, [fx(329), fx(444)], [fy(646), fy(535)], [-3, 0.02], [0, 103.7],
  [0.001, 0.01, 0.1, 1], ['0.001', '0.01', '0.1', '1'], 'Dauno (μM)', 447, 12);
dosePanel(jConc, jResp, 10, 10, [fx(588), fx(714)], [fy(646), fy(540)], [-4, -1.9], [0, 102.9],
  [0.0001, 0.001, 0.01], ['0.0001', '0.001', '0.01'], 'CC-885 (μM)', 699, 13);

layout.annotations = annotations;
layout.shapes = shapes;
Plotly.newPlot('chart', traces, layout, {displayModeBar: false, staticPlot: true});
</script>
</body></html>
